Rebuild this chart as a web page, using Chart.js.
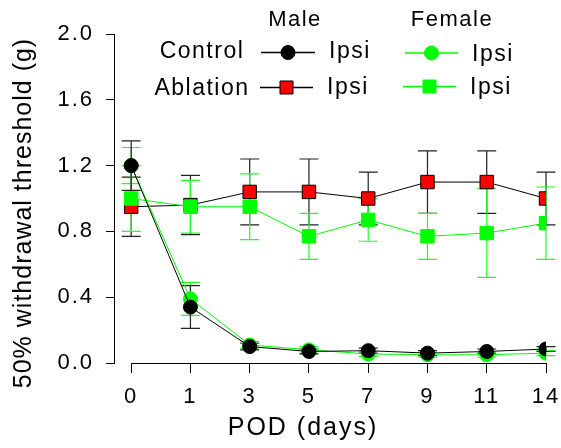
<!DOCTYPE html>
<html>
<head>
<meta charset="utf-8">
<script src="https://cdn.jsdelivr.net/npm/chart.js@4/dist/chart.umd.min.js"></script>
<style>
  html, body { margin: 0; padding: 0; background: #fff; }
</style>
</head>
<body>
<canvas class="js-chart" width="561" height="448"></canvas>
<script>
const ctx = document.querySelector('.js-chart').getContext('2d');
const FONT = '"Liberation Sans", Arial, sans-serif';
const GREEN = '#00ff00';

// POD (days)
const days = ['0', '1', '3', '5', '7', '9', '11', '14'];
const yTicks = [0, 0.4, 0.8, 1.2, 1.6, 2.0];

// 50% withdrawal threshold (g), mean and SEM
const maleControl = [1.20, 0.34, 0.10, 0.07, 0.075, 0.06, 0.07, 0.085];
const maleControlErr = [0.15, 0.13, 0.02, 0.015, 0.015, 0.015, 0.015, 0.015];
const femaleControl = [1.20, 0.39, 0.11, 0.08, 0.055, 0.05, 0.05, 0.06];
const femaleControlErr = [0.11, 0.10, 0.02, 0.02, 0.015, 0.015, 0.015, 0.015];
const maleAblation = [0.95, 0.96, 1.04, 1.04, 1.00, 1.10, 1.10, 1.00];
const maleAblationErr = [0.18, 0.18, 0.20, 0.20, 0.16, 0.19, 0.19, 0.16];
const femaleAblation = [1.00, 0.95, 0.95, 0.77, 0.87, 0.77, 0.79, 0.85];
const femaleAblationErr = [0.20, 0.16, 0.20, 0.14, 0.13, 0.14, 0.27, 0.22];

const toPoints = values => values.map((y, i) => ({ x: i, y }));

function dataset(values, errors, color, point, fill, border) {
    return {
        data: toPoints(values),
        errors,
        errorColor: color === GREEN ? '#22ff22' : '#222',
        borderColor: color,
        borderWidth: 1,
        pointStyle: point,
        pointRadius: point === 'rect' ? 9.5 : 7,
        pointBackgroundColor: fill,
        pointBorderColor: border,
        pointBorderWidth: 1,
        tension: 0,
    };
}

const spacing = {
    id: 'spacing',
    beforeUpdate(chart) { chart.ctx.letterSpacing = '2px'; },
    beforeDraw(chart) { chart.ctx.letterSpacing = '2px'; },
};

const errorBars = {
    id: 'errorBars',
    beforeDatasetsDraw(chart) {
        const { ctx: c, scales: { x, y } } = chart;
        c.save();
        c.lineWidth = 1.2;
        chart.data.datasets.slice().reverse().forEach(ds => {
            c.strokeStyle = ds.errorColor;
            ds.data.forEach((p, i) => {
                const px = x.getPixelForValue(p.x);
                const top = y.getPixelForValue(p.y + ds.errors[i]);
                const bot = y.getPixelForValue(p.y - ds.errors[i]);
                c.beginPath();
                c.moveTo(px, top); c.lineTo(px, bot);
                c.moveTo(px - 9.5, top); c.lineTo(px + 9.5, top);
                c.moveTo(px - 9.5, bot); c.lineTo(px + 9.5, bot);
                c.stroke();
            });
        });
        c.restore();
    }
};

function legendItem(c, x1, x2, y, color, shape, fill, border) {
    c.strokeStyle = color;
    c.lineWidth = 1.4;
    c.beginPath();
    c.moveTo(x1, y); c.lineTo(x2, y);
    c.stroke();
    const cx = (x1 + x2) / 2;
    c.lineWidth = 1;
    c.fillStyle = fill;
    c.strokeStyle = border;
    c.beginPath();
    if (shape === 'circle') c.arc(cx, y, 7, 0, Math.PI * 2);
    else c.rect(cx - 6.5, y - 6.5, 13, 13);
    c.fill();
    c.stroke();
}

const decorations = {
    id: 'decorations',
    afterDraw(chart) {
        const { ctx: c, chartArea, scales: { x } } = chart;
        c.save();
        // x axis line only across the categories
        c.strokeStyle = '#000';
        c.lineWidth = 1;
        c.beginPath();
        c.moveTo(Math.round(x.getPixelForValue(0)) + 0.5, chartArea.bottom + 0.5);
        c.lineTo(Math.round(x.getPixelForValue(days.length - 1)) + 0.5, chartArea.bottom + 0.5);
        c.stroke();

        c.fillStyle = '#000';
        c.textBaseline = 'middle';
        c.textAlign = 'center';
        c.font = '25px ' + FONT;
        c.letterSpacing = '2px';
        c.fillText('POD (days)', 303, 428);
        c.save();
        c.letterSpacing = '1px';
        c.translate(24, 213);
        c.rotate(-Math.PI / 2);
        c.fillText('50% withdrawal threshold (g)', 0, 0);
        c.restore();

        // legend
        c.letterSpacing = '1.5px';
        c.font = '22px ' + FONT;
        c.fillText('Male', 295, 20);
        c.fillText('Female', 452, 20);
        c.font = '23px ' + FONT;
        c.fillText('Control', 202, 52);
        c.fillText('Ablation', 202, 89);
        c.textAlign = 'left';
        c.fillText('Ipsi', 329, 52);
        c.fillText('Ipsi', 327, 88);
        c.fillText('Ipsi', 472, 55);
        c.fillText('Ipsi', 470, 88);

        legendItem(c, 261, 315, 52.5, '#000', 'circle', '#000', '#000');
        legendItem(c, 260, 313, 87.5, '#000', 'rect', '#ff0000', '#000');
        legendItem(c, 405, 458, 53, GREEN, 'circle', GREEN, GREEN);
        legendItem(c, 403, 456, 86.5, GREEN, 'rect', GREEN, GREEN);
        c.restore();
    }
};

new Chart(ctx, {
    type: 'line',
    data: {
        datasets: [
            dataset(maleControl, maleControlErr, '#000', 'circle', '#000', '#000'),
            dataset(femaleControl, femaleControlErr, GREEN, 'circle', GREEN, GREEN),
            dataset(femaleAblation, femaleAblationErr, GREEN, 'rect', GREEN, GREEN),
            dataset(maleAblation, maleAblationErr, '#000', 'rect', '#ff0000', '#000'),
        ]
    },
    options: {
        responsive: false,
        animation: false,
        events: [],
        layout: { padding: { left: 0, right: 15, top: 34, bottom: 0 } },
        plugins: { legend: { display: false }, tooltip: { enabled: false } },
        scales: {
            x: {
                type: 'linear',
                min: -0.29,
                max: days.length - 1,
                afterBuildTicks(scale) {
                    scale.ticks = days.map((d, i) => ({ value: i }));
                },
                afterFit(scale) {
                    scale.height = 85;
                    scale.paddingLeft = 0;
                    scale.paddingRight = 0;
                },
                border: { display: false },
                grid: { drawOnChartArea: false, drawTicks: true, tickLength: 10, color: '#000' },
                ticks: {
                    callback: value => days[value],
                    color: '#000',
                    padding: 11,
                    maxRotation: 0,
                    font: { family: FONT, size: 22 },
                },
            },
            y: {
                min: 0,
                max: 2,
                afterBuildTicks(scale) {
                    scale.ticks = yTicks.map(value => ({ value }));
                },
                afterFit(scale) {
                    scale.width = 114;
                    scale.paddingTop = 0;
                    scale.paddingBottom = 0;
                },
                border: { display: true, color: '#000', width: 1 },
                grid: { drawOnChartArea: false, drawTicks: true, tickLength: 8, color: '#000' },
                ticks: {
                    callback: value => value.toFixed(1),
                    color: '#000',
                    padding: 12,
                    font: { family: FONT, size: 22 },
                },
            },
        },
    },
    plugins: [spacing, errorBars, decorations],
});
</script>
</body>
</html>
